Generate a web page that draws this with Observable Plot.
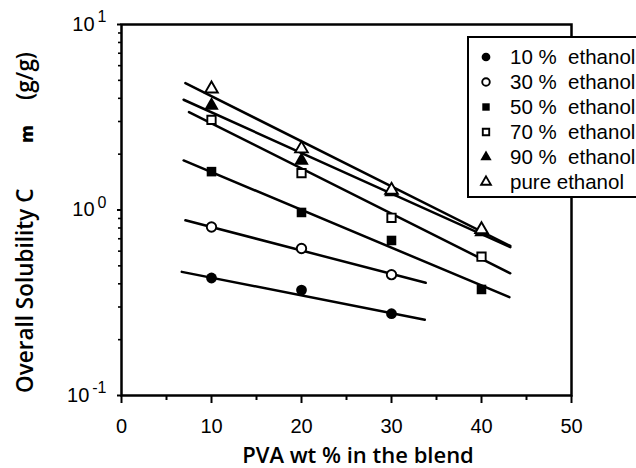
<!DOCTYPE html>
<html>
<head>
<meta charset="utf-8">
<script src="https://cdn.jsdelivr.net/npm/d3@7"></script>
<script src="https://cdn.jsdelivr.net/npm/@observablehq/plot@0.6"></script>
<style>
  html, body { margin: 0; padding: 0; background: #fff; }
  #chart svg { display: block; }
</style>
</head>
<body>
<div id="chart"></div>
<script>
// ---- data ----
const seriesNames = ["10 %  ethanol", "30 %  ethanol", "50 %  ethanol", "70 %  ethanol", "90 %  ethanol", "pure ethanol"];
const seriesSymbols = ["circle", "circle", "square", "square", "triangle", "triangle"];
const seriesFilled = [true, false, true, false, true, false];

const pvaWt = [10, 20, 30, 40];
const sol10 = [0.43, 0.37, 0.276];
const sol30 = [0.81, 0.62, 0.448];
const sol50 = [1.61, 0.97, 0.685, 0.373];
const sol70 = [3.06, 1.58, 0.908, 0.56];
const sol90 = [3.66, 1.85, 1.25, 0.76];
const solPure = [4.5, 2.14, 1.28, 0.785];

// fitted straight lines (start / end) per series
const fitStartX = [6.7, 7.1, 6.9, 7.5, 6.9, 7.1];
const fitStartY = [0.464, 0.88, 1.85, 3.37, 3.93, 4.83];
const fitEndX = [33.7, 33.8, 43.1, 43.2, 43.2, 43.2];
const fitEndY = [0.256, 0.405, 0.339, 0.456, 0.63, 0.64];

const xTicks = [0, 10, 20, 30, 40, 50];
const xMinorTicks = [5, 15, 25, 35, 45];
const yTicks = [0.1, 1, 10];
const yTickExponents = ["-1", "0", "1"];
const yMinorTicks = [0.2, 0.3, 0.4, 0.5, 0.6, 0.7, 0.8, 0.9, 2, 3, 4, 5, 6, 7, 8, 9];
const xLabel = "PVA wt % in the blend";
const yLabelParts = ["Overall Solubility C", "m", "(g/g)"];

// ---- build tables ----
const allSeries = [sol10, sol30, sol50, sol70, sol90, solPure];
const points = [];
allSeries.forEach((vals, i) => vals.forEach((v, j) => points.push({series: seriesNames[i], x: pvaWt[j], y: v, filled: seriesFilled[i]})));
const fits = [];
seriesNames.forEach((s, i) => {
  fits.push({series: s, x: fitStartX[i], y: fitStartY[i]});
  fits.push({series: s, x: fitEndX[i], y: fitEndY[i]});
});

const font = "'Liberation Sans', Arial, sans-serif";
const titleFont = "'Open Sans', 'DejaVu Sans', sans-serif";

const plot = Plot.plot({
  width: 636,
  height: 468,
  marginLeft: 121,
  marginRight: 65,
  marginTop: 24,
  marginBottom: 73,
  style: {fontFamily: font, fontSize: "20px", color: "#000", background: "#fff"},
  x: {domain: [0, 50]},
  y: {type: "log", domain: [0.1, 10]},
  symbol: {domain: seriesNames, range: seriesSymbols},
  marks: [
    Plot.line(fits, {x: "x", y: "y", z: "series", stroke: "#000", strokeWidth: 2.5}),
    Plot.dot(points.filter(d => d.filled), {x: "x", y: "y", symbol: "series", fill: "#000", stroke: "none", r: 5.4}),
    Plot.dot(points.filter(d => !d.filled), {x: "x", y: "y", symbol: "series", fill: "#fff", stroke: "#000", strokeWidth: 1.9, r: 4.7}),
    Plot.axisX({ticks: xTicks, tickSize: 8, tickPadding: 15, strokeWidth: 2, label: null, fontSize: 20}),
    Plot.axisX({ticks: xMinorTicks, tickSize: 5, tickFormat: () => "", strokeWidth: 2, label: null}),
    Plot.axisY({ticks: yTicks, tickSize: 4, tickPadding: 11, strokeWidth: 2, tickFormat: () => "10", label: null, fontSize: 20}),
    Plot.axisY({ticks: yMinorTicks, tickSize: 3, tickFormat: () => "", strokeWidth: 1.6, label: null}),
    Plot.frame({stroke: "#000", strokeWidth: 2.5})
  ]
});
document.getElementById("chart").appendChild(plot);

const svg = d3.select(plot);

// superscript exponents on major y tick labels
let k = 0;
svg.selectAll('g[aria-label="y-axis tick label"] text').each(function() {
  const t = d3.select(this);
  if (t.text() !== "10") return;
  t.text(null);
  t.append("tspan").text("10");
  t.append("tspan").attr("dx", "3").attr("dy", "-0.55em").attr("font-size", "16px").text(yTickExponents[k++]);
});

// axis titles
svg.append("text")
  .attr("x", 358).attr("y", 463)
  .attr("text-anchor", "middle")
  .attr("font-family", titleFont).attr("font-weight", 600).attr("font-size", 22)
  .text(xLabel);

const yl = svg.append("text")
  .attr("transform", "translate(33,393) rotate(-90)")
  .attr("text-anchor", "start")
  .attr("font-family", titleFont).attr("font-weight", 600).attr("font-size", 22.5);
yl.append("tspan").attr("x", 0).text(yLabelParts[0]);
yl.append("tspan").attr("x", 250).attr("font-weight", 800).attr("font-size", 18).text(yLabelParts[1]);
yl.append("tspan").attr("x", 293).text(yLabelParts[2]);

// legend (inside plot area, running off the right edge)
const legend = svg.append("g").attr("text-anchor", "start");
legend.append("rect")
  .attr("x", 468).attr("y", 37).attr("width", 220).attr("height", 160)
  .attr("fill", "#fff").attr("stroke", "#000").attr("stroke-width", 2);
const symMap = {circle: d3.symbolCircle, square: d3.symbolSquare, triangle: d3.symbolTriangle};
const legSizes = {circle: 60, square: 55, triangle: 55};
seriesNames.forEach((s, i) => {
  const cy = 57 + i * 25;
  const sym = seriesSymbols[i];
  const filled = seriesFilled[i];
  legend.append("path")
    .attr("transform", `translate(486,${cy})`)
    .attr("d", d3.symbol(symMap[sym], filled ? legSizes[sym] : legSizes[sym] * 0.75)())
    .attr("fill", filled ? "#000" : "#fff")
    .attr("stroke", filled ? "none" : "#000")
    .attr("stroke-width", 1.9);
  legend.append("text")
    .attr("x", 510).attr("y", cy + 7)
    .attr("text-anchor", "start")
    .attr("font-family", font).attr("font-size", 20.5)
    .style("white-space", "pre")
    .text(s);
});
</script>
</body>
</html>
